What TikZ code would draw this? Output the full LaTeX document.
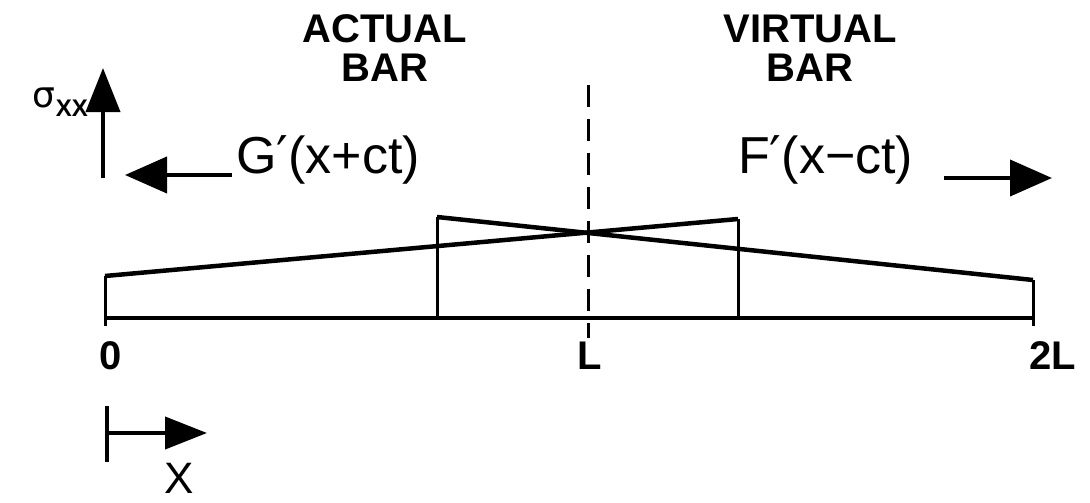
\documentclass[tikz,border=0pt]{standalone}
\usepackage{fontspec}
\setmainfont{Liberation Sans}
\newfontfamily\hand{DejaVu Sans}
\usetikzlibrary{arrows.meta}
\begin{document}
\begin{tikzpicture}[x=1pt,y=-1pt,
  lbl/.style={font=\fontsize{40}{39}\selectfont\bfseries, align=center, inner sep=0pt},
  fn/.style={font=\fontsize{52}{52}\selectfont, inner sep=0pt},
  bar/.style={line width=4.5pt},
  thin/.style={line width=3pt},
  bigarrow/.style={line width=4pt, -{Triangle[length=42pt,width=36pt]}}]
\useasboundingbox (0,0) rectangle (1090,503);
% headings
\node[lbl] (actual) at (385,48) {ACTUAL\\BAR};
\node[lbl] (virtual) at (810,48) {VIRTUAL\\BAR};
% dashed centre line
\coordinate (ctop) at (588,85);
\coordinate (cbot) at (588,338);
\draw[line width=3pt, dash pattern=on 22pt off 12pt] (ctop) -- (cbot);
% sigma axis
\coordinate (sbot) at (103,178);
\coordinate (stop) at (103,68);
\draw[line width=4pt, -{Triangle[length=44pt,width=34pt]}] (sbot) -- (stop);
\node[inner sep=0pt, anchor=east] (sigma) at (88,102) {{\hand\fontsize{36}{36}\selectfont σ}\raisebox{-9pt}{\fontsize{24}{24}\selectfont\bfseries XX}};
% wave labels
\node[fn, anchor=west] (G) at (236,160) {G{\hand ′}(x+ct)};
\coordinate (Gs) at (232,175);
\coordinate (Ge) at (125,175);
\draw[bigarrow] (Gs) -- (Ge);
\node[fn, anchor=west] (F) at (738,160) {F{\hand ′}(x−ct)};
\coordinate (Fs) at (944,178);
\coordinate (Fe) at (1052,178);
\draw[bigarrow] (Fs) -- (Fe);
% bar shapes
\coordinate (A0) at (105,318);
\coordinate (A2) at (1033,318);
\coordinate (P0) at (105,276);
\coordinate (P2) at (1033,280);
\coordinate (Q1) at (437,217);
\coordinate (Q2) at (738,219);
\coordinate (B1) at (437,318);
\coordinate (B2) at (738,318);
\draw[bar] (A0) -- (A2);
\draw[thin] (P0) -- (A0);
\draw[thin] (P2) -- (A2);
\draw[thin] (Q1) -- (B1);
\draw[thin] (Q2) -- (B2);
\draw[bar] (P0) -- (Q2);
\draw[bar] (Q1) -- (P2);
% ticks
\draw[thin] (A0) -- ++(0,8);
\draw[thin] (A2) -- ++(0,8);
% axis labels
\node[lbl] (zero) at (111,356) {0};
\node[lbl] (Ll) at (590,356) {L};
\node[lbl] (twoL) at (1053,356) {2L};
% x direction arrow
\coordinate (xt1) at (107,406);
\coordinate (xt2) at (107,462);
\draw[line width=4pt] (xt1) -- (xt2);
\coordinate (xs) at (107,433);
\coordinate (xe) at (207,433);
\draw[line width=4pt, -{Triangle[length=42pt,width=32pt]}] (xs) -- (xe);
\node[font=\fontsize{44}{44}\selectfont, inner sep=0pt, anchor=base] (X) at (179,493) {X};
\end{tikzpicture}
\end{document}
